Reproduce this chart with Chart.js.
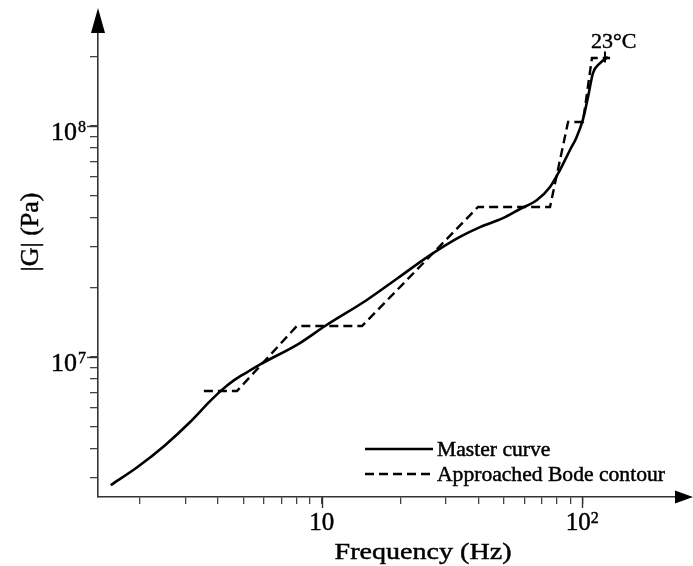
<!DOCTYPE html>
<html>
<head>
<meta charset="utf-8">
<script src="https://cdn.jsdelivr.net/npm/chart.js@4.4.0/dist/chart.umd.min.js"></script>
<style>
  html, body { margin: 0; padding: 0; background: #fff; }
  canvas { display: block; }
</style>
</head>
<body>
<canvas id="chart" width="693" height="566"></canvas>
<script>
// master curve (23 °C)
var masterFreq = [1.55, 1.97, 2.5, 3.12, 3.72, 4.15, 4.6, 5.2, 5.85, 8.25, 10.3, 14.9, 19.6, 25.4, 33.9, 40.5, 49.6, 57.7, 67.0, 75.2, 82.1, 89.7, 95.0, 100.5, 105.2, 109.9, 117.0, 125.5];
var masterG = [2.78e6, 3.34e6, 4.13e6, 5.2e6, 6.4e6, 7.2e6, 7.9e6, 8.6e6, 9.3e6, 1.146e7, 1.358e7, 1.76e7, 2.19e7, 2.70e7, 3.30e7, 3.64e7, 3.98e7, 4.36e7, 4.77e7, 5.43e7, 6.43e7, 7.85e7, 8.9e7, 1.06e8, 1.331e8, 1.69e8, 1.868e8, 1.984e8];

// approached Bode contour (straight segments)
var bodeFreq = [3.53, 4.73, 8.03, 14.28, 39.8, 75.2, 88.2, 100.6, 108.9, 127.8];
var bodeG = [7.1e6, 7.1e6, 1.358e7, 1.358e7, 4.45e7, 4.45e7, 1.038e8, 1.038e8, 1.963e8, 1.963e8];

// temperature marker at the end of the master curve
var markFreq = [122.2];
var markG = [1.984e8];
var markText = '23°C';

// tick positions and labelled decades
var xTicks = [2, 3, 4, 5, 6, 7, 8, 9, 10, 20, 30, 40, 50, 60, 70, 80, 90, 100];
var yTicks = [3e6, 4e6, 5e6, 6e6, 7e6, 8e6, 9e6, 1e7, 2e7, 3e7, 4e7, 5e7, 6e7, 7e7, 8e7, 9e7, 1e8, 2e8];
var xLabelValues = [10, 100];
var xLabelExp = ['', '2'];
var yLabelValues = [1e7, 1e8];
var yLabelExp = ['7', '8'];

var xTitle = 'Frequency (Hz)';
var yTitle = '|G| (Pa)';

function toPoints(xs, ys) {
    return xs.map(function (x, i) { return { x: x, y: ys[i] }; });
}

var SERIF = '"Liberation Serif", "Times New Roman", serif';

// text with a light outline so it reads a little heavier, optionally widened
function heavyText(ctx, text, x, y, sx) {
    ctx.save();
    ctx.translate(x, y);
    ctx.scale(sx || 1, 1);
    ctx.lineWidth = 0.45;
    ctx.strokeStyle = '#000';
    ctx.fillText(text, 0, 0);
    ctx.strokeText(text, 0, 0);
    ctx.restore();
}

// arrows, tick labels, titles and the legend
var decor = {
    id: 'decor',
    afterDraw: function (chart) {
        var ctx = chart.ctx;
        var area = chart.chartArea;
        var xs = chart.scales.x, ys = chart.scales.y;
        ctx.save();
        ctx.fillStyle = '#000';
        ctx.strokeStyle = '#333';

        // arrow heads
        ctx.beginPath();
        ctx.moveTo(area.left, area.top - 25);
        ctx.lineTo(area.left - 7, area.top);
        ctx.lineTo(area.left + 7, area.top);
        ctx.closePath();
        ctx.fill();
        ctx.beginPath();
        ctx.moveTo(area.right + 18, area.bottom);
        ctx.lineTo(area.right, area.bottom - 6.5);
        ctx.lineTo(area.right, area.bottom + 6.5);
        ctx.closePath();
        ctx.fill();

        // longer marks at the decades
        ctx.lineWidth = 1.4;
        xLabelValues.forEach(function (v) {
            var px = Math.round(xs.getPixelForValue(v)) + 0.5;
            ctx.beginPath();
            ctx.moveTo(px, area.bottom);
            ctx.lineTo(px, area.bottom + 11);
            ctx.stroke();
        });
        yLabelValues.forEach(function (v) {
            var py = Math.round(ys.getPixelForValue(v)) + 0.5;
            ctx.beginPath();
            ctx.moveTo(area.left, py);
            ctx.lineTo(area.left - 11, py);
            ctx.stroke();
        });

        // decade labels
        var big = '25px ' + SERIF, small = '16px ' + SERIF;
        ctx.textBaseline = 'alphabetic';
        ctx.textAlign = 'left';
        xLabelValues.forEach(function (v, i) {
            var px = xs.getPixelForValue(v);
            ctx.font = big;
            var wb = ctx.measureText('10').width;
            ctx.font = small;
            var we = xLabelExp[i] ? ctx.measureText(xLabelExp[i]).width : 0;
            var start = px - (wb + we) / 2;
            ctx.font = big;
            heavyText(ctx, '10', start, area.bottom + 33);
            if (xLabelExp[i]) {
                ctx.font = small;
                heavyText(ctx, xLabelExp[i], start + wb, area.bottom + 26);
            }
        });
        ctx.textAlign = 'right';
        yLabelValues.forEach(function (v, i) {
            var py = ys.getPixelForValue(v);
            ctx.font = small;
            var we = ctx.measureText(yLabelExp[i]).width;
            heavyText(ctx, yLabelExp[i], area.left - 12, py + 6);
            ctx.font = '26px ' + SERIF;
            heavyText(ctx, '10', area.left - 13 - we, py + 14);
        });

        // axis titles
        ctx.font = '24px ' + SERIF;
        ctx.textAlign = 'center';
        heavyText(ctx, xTitle, 423, 559, 1.17);
        ctx.save();
        ctx.translate(38, 232);
        ctx.rotate(-Math.PI / 2);
        ctx.font = '26px ' + SERIF;
        heavyText(ctx, yTitle, 0, 0);
        ctx.restore();

        // temperature label
        ctx.font = '22px ' + SERIF;
        ctx.textAlign = 'left';
        heavyText(ctx, markText, 591, 48);

        // legend
        var lx = 365, ly = 449, row = 25;
        ctx.font = '20px ' + SERIF;
        chart.data.datasets.slice(0, 2).forEach(function (ds, i) {
            var y = ly + i * row;
            ctx.save();
            ctx.strokeStyle = ds.borderColor;
            ctx.lineWidth = ds.borderWidth;
            ctx.setLineDash(ds.borderDash || []);
            ctx.beginPath();
            ctx.moveTo(lx, y);
            ctx.lineTo(lx + 68, y);
            ctx.stroke();
            ctx.restore();
            ctx.textAlign = 'left';
            heavyText(ctx, ds.label, lx + 72, y + 6.5, 1.08);
        });
        ctx.restore();
    }
};

new Chart(document.getElementById('chart'), {
    type: 'scatter',
    data: {
        datasets: [{
            label: 'Master curve',
            data: toPoints(masterFreq, masterG),
            showLine: true,
            borderColor: '#000',
            borderWidth: 2.6,
            pointRadius: 0,
            cubicInterpolationMode: 'monotone'
        }, {
            label: 'Approached Bode contour',
            data: toPoints(bodeFreq, bodeG),
            showLine: true,
            borderColor: '#000',
            borderWidth: 2.4,
            borderDash: [9, 5],
            pointRadius: 0
        }, {
            label: 'marker',
            data: toPoints(markFreq, markG),
            showLine: false,
            pointStyle: 'line',
            rotation: 90,
            pointRadius: 5.5,
            borderColor: '#000',
            borderWidth: 2,
            backgroundColor: '#000'
        }]
    },
    options: {
        responsive: false,
        animation: false,
        devicePixelRatio: 1,
        layout: { padding: { left: 0, top: 33, right: 18, bottom: 0 } },
        plugins: { legend: { display: false }, tooltip: { enabled: false } },
        scales: {
            x: {
                type: 'logarithmic',
                min: 1.385,
                max: 226.9,
                border: { display: true, color: '#333', width: 1.6 },
                grid: { drawOnChartArea: false, drawTicks: true, tickLength: 7, color: '#444', lineWidth: 1.3 },
                ticks: { autoSkip: false, maxRotation: 0, callback: function () { return ''; } },
                afterBuildTicks: function (s) { s.ticks = xTicks.map(function (v) { return { value: v }; }); },
                afterFit: function (s) { s.height = 69; }
            },
            y: {
                type: 'logarithmic',
                min: 2.469e6,
                max: 2.52e8,
                border: { display: true, color: '#333', width: 1.6 },
                grid: { drawOnChartArea: false, drawTicks: true, tickLength: 8, color: '#444', lineWidth: 1.3 },
                ticks: { autoSkip: false, callback: function () { return ''; } },
                afterBuildTicks: function (s) { s.ticks = yTicks.map(function (v) { return { value: v }; }); },
                afterFit: function (s) { s.width = 98; }
            }
        }
    },
    plugins: [decor]
});
</script>
</body>
</html>
